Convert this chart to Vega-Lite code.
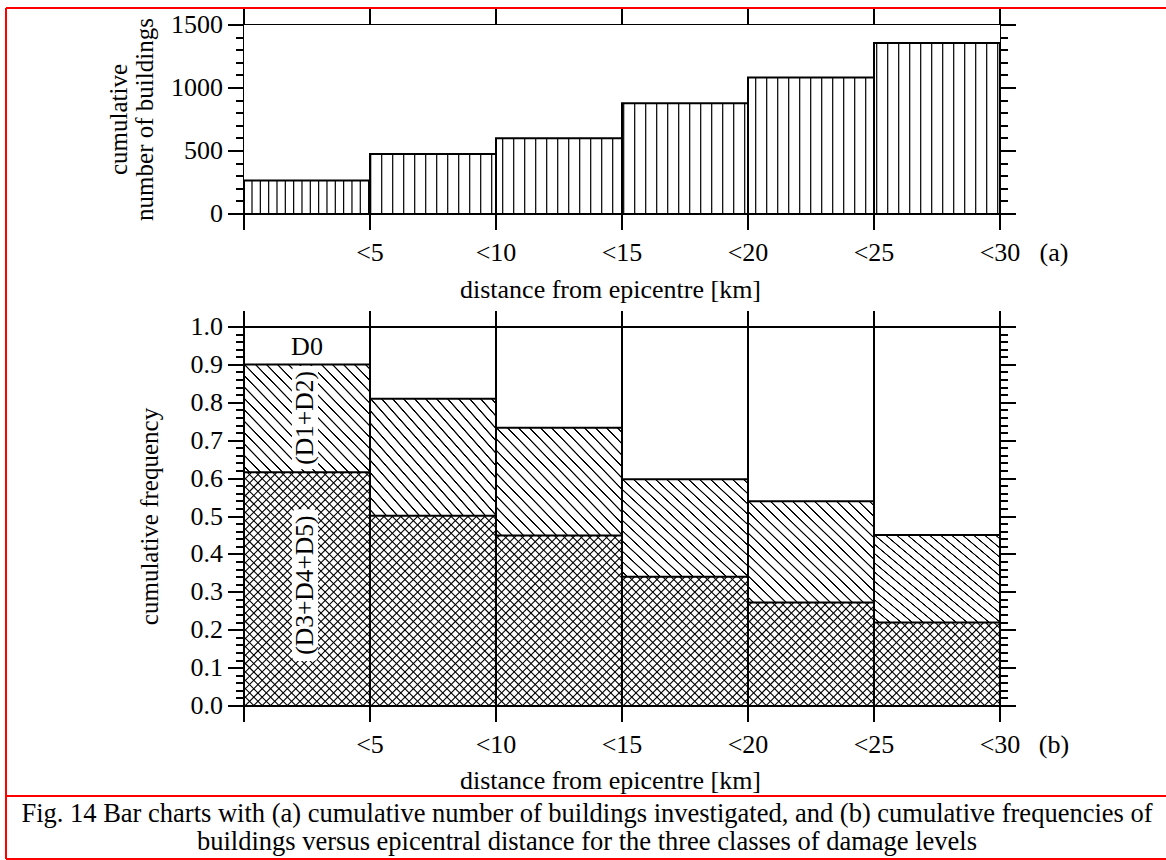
{
"$schema": "https://vega.github.io/schema/vega-lite/v6.json",
"width": 756,
"height": 379,
"autosize": {"type": "none"},
"padding": {"left": 244, "top": 327, "right": 166, "bottom": 154},
"background": "white",
"datasets": {
"bins": [
{"bin": "<5", "lo": 0, "hi": 5, "n": 266, "d3": 0.617, "d12": 0.901},
{"bin": "<10", "lo": 5, "hi": 10, "n": 477, "d3": 0.502, "d12": 0.811},
{"bin": "<15", "lo": 10, "hi": 15, "n": 602, "d3": 0.450, "d12": 0.734},
{"bin": "<20", "lo": 15, "hi": 20, "n": 878, "d3": 0.341, "d12": 0.598},
{"bin": "<25", "lo": 20, "hi": 25, "n": 1084, "d3": 0.273, "d12": 0.540},
{"bin": "<30", "lo": 25, "hi": 30, "n": 1358, "d3": 0.220, "d12": 0.451}
]
},
"config": {
"view": {"stroke": null},
"font": "Liberation Serif",
"axis": {
"domainColor": "#000", "domainWidth": 2, "tickColor": "#000", "tickWidth": 2,
"labelColor": "#000", "labelFont": "Liberation Serif", "labelFontSize": 26,
"titleColor": "#000", "titleFont": "Liberation Serif", "titleFontSize": 26, "titleFontWeight": "normal",
"grid": false, "translate": 0, "labelFlush": false, "labelOverlap": false,
"titleLimit": 3000, "labelLimit": 500, "zindex": 1
}
},
"resolve": {"scale": {"x": "independent", "y": "independent"}, "axis": {"x": "independent", "y": "independent"}},
"layer": [
{
"data": {"values": [{"k": 1}]},
"mark": {"type": "rule", "color": "#000", "strokeWidth": 189, "strokeDash": [1.2, 9.8], "strokeDashOffset": 10.9},
"encoding": {
"x": {"datum": 5, "type": "quantitative", "scale": {"domain": [0, 30], "nice": false, "zero": false},
"axis": {"orient": "bottom", "offset": -492, "values": [0, 5, 10, 15, 20, 25, 30], "labelExpr": "datum.value == 0 ? '' : '<' + datum.value", "tickSize": 16, "labelPadding": 31, "labelBaseline": "alphabetic", "title": "distance from epicentre [km]", "titleX": 366.5, "titleY": 84, "titleBaseline": "alphabetic", "titleAlign": "center"}},
"x2": {"datum": 30},
"y": {"datum": 750, "type": "quantitative", "scale": {"domain": [0, 1500], "range": [-113, -302], "nice": false, "zero": false},
"axis": {"orient": "left", "values": [0, 500, 1000, 1500], "format": "d", "tickSize": 16, "labelPadding": 5, "title": ["cumulative", "number of buildings"], "titleX": -112, "titleY": -207.5, "titleAngle": 270, "titleBaseline": "bottom", "titleAlign": "center", "titleLineHeight": 26, "titleFontSize": 25}}
}
},
{
"data": {"values": [{"k": 1}]},
"mark": {"type": "rule", "color": "#000", "strokeWidth": 189, "strokeDash": [1.2, 7.13], "strokeDashOffset": 0.93},
"encoding": {
"x": {"datum": 0, "type": "quantitative", "scale": {"domain": [0, 30], "nice": false, "zero": false},
"axis": {"orient": "top", "offset": 302, "values": [0, 5, 10, 15, 20, 25, 30], "tickSize": 16, "labels": false, "title": "(a)", "titleX": 810, "titleY": 236, "titleBaseline": "alphabetic", "titleAlign": "center"}},
"x2": {"datum": 5},
"y": {"datum": 750, "type": "quantitative", "scale": {"domain": [0, 1500], "range": [-113, -302], "nice": false, "zero": false},
"axis": {"orient": "left", "values": [100, 200, 300, 400, 600, 700, 800, 900, 1100, 1200, 1300, 1400], "tickSize": 8, "labels": false, "domain": false, "title": null}}
}
},
{
"data": {"name": "bins"},
"mark": {"type": "bar", "fill": "#fff"},
"encoding": {
"x": {"field": "lo", "type": "quantitative", "scale": {"domain": [0, 30], "nice": false, "zero": false}, "axis": null},
"x2": {"field": "hi"},
"y": {"field": "n", "type": "quantitative", "stack": null, "scale": {"domain": [0, 1500], "range": [-113, -302], "nice": false, "zero": false},
"axis": {"orient": "right", "values": [0, 500, 1000, 1500], "tickSize": 16, "labels": false, "title": null}},
"y2": {"datum": 1500}
}
},
{
"data": {"name": "bins"},
"mark": {"type": "bar", "fill": "transparent", "stroke": "#000", "strokeWidth": 2},
"encoding": {
"x": {"field": "lo", "type": "quantitative", "scale": {"domain": [0, 30], "nice": false, "zero": false}, "axis": null},
"x2": {"field": "hi"},
"y": {"field": "n", "type": "quantitative", "stack": null, "scale": {"domain": [0, 1500], "range": [-113, -302], "nice": false, "zero": false},
"axis": {"orient": "right", "values": [100, 200, 300, 400, 600, 700, 800, 900, 1100, 1200, 1300, 1400], "tickSize": 8, "labels": false, "domain": false, "title": null}},
"y2": {"datum": 0}
}
},
{
"data": {"values": [{"k": 1}]},
"mark": {"type": "rule", "color": "#000", "strokeWidth": 810, "strokeDash": [1.1, 4.84], "clip": true},
"encoding": {
"x": {"datum": 3.095, "type": "quantitative", "scale": {"domain": [0, 30], "nice": false, "zero": false},
"axis": {"orient": "bottom", "values": [0, 5, 10, 15, 20, 25, 30], "labelExpr": "datum.value == 0 ? '' : '<' + datum.value", "tickSize": 16, "labelPadding": 31, "labelBaseline": "alphabetic", "title": "distance from epicentre [km]", "titleX": 366.5, "titleY": 82.5, "titleBaseline": "alphabetic", "titleAlign": "center"}},
"x2": {"datum": 26.905},
"y": {"datum": 1.2916, "type": "quantitative", "scale": {"domain": [0, 1], "nice": false, "zero": false},
"axis": {"orient": "left", "values": [0, 0.1, 0.2, 0.3, 0.4, 0.5, 0.6, 0.7, 0.8, 0.9, 1], "format": ".1f", "tickSize": 16, "labelPadding": 5, "title": "cumulative frequency", "titleX": -81, "titleY": 189.5, "titleAngle": 270, "titleBaseline": "bottom", "titleAlign": "center", "titleFontSize": 25}},
"y2": {"datum": -0.2916}
}
},
{
"data": {"values": [{"k": 1}]},
"mark": {"type": "rule", "color": "#000", "strokeWidth": 810, "strokeDash": [1.1, 4.84], "clip": true},
"encoding": {
"x": {"datum": 3.095, "type": "quantitative", "scale": {"domain": [0, 30], "nice": false, "zero": false},
"axis": {"orient": "top", "values": [0, 5, 10, 15, 20, 25, 30], "tickSize": 16, "labels": false, "title": "(b)", "titleX": 810, "titleY": 426, "titleBaseline": "alphabetic", "titleAlign": "center"}},
"x2": {"datum": 26.905},
"y": {"datum": -0.2916, "type": "quantitative", "scale": {"domain": [0, 1], "nice": false, "zero": false},
"axis": {"orient": "left", "values": [0.02, 0.04, 0.06, 0.08, 0.12, 0.14, 0.16, 0.18, 0.22, 0.24, 0.26, 0.28, 0.32, 0.34, 0.36, 0.38, 0.42, 0.44, 0.46, 0.48, 0.52, 0.54, 0.56, 0.58, 0.62, 0.64, 0.66, 0.68, 0.72, 0.74, 0.76, 0.78, 0.82, 0.84, 0.86, 0.88, 0.92, 0.94, 0.96, 0.98], "tickSize": 8, "labels": false, "domain": false, "title": null}},
"y2": {"datum": 1.2916}
}
},
{
"data": {"name": "bins"},
"mark": {"type": "bar", "fill": "#fff"},
"encoding": {
"x": {"field": "lo", "type": "quantitative", "scale": {"domain": [0, 30], "nice": false, "zero": false}, "axis": null},
"x2": {"field": "hi"},
"y": {"field": "d3", "type": "quantitative", "stack": null, "scale": {"domain": [0, 1], "nice": false, "zero": false},
"axis": {"orient": "right", "values": [0, 0.1, 0.2, 0.3, 0.4, 0.5, 0.6, 0.7, 0.8, 0.9, 1], "tickSize": 16, "labels": false, "title": null}},
"y2": {"datum": 1}
}
},
{
"data": {"name": "bins"},
"mark": {"type": "bar", "fill": {"gradient": "linear", "x1": 0, "y1": 1, "x2": 1.0857, "y2": 0.1038, "stops": [
{"offset": 0, "color": "#fff"},
{"offset": 0.0184, "color": "#fff"}, {"offset": 0.0217, "color": "#000"}, {"offset": 0.0261, "color": "#000"}, {"offset": 0.0294, "color": "#fff"},
{"offset": 0.0662, "color": "#fff"}, {"offset": 0.0695, "color": "#000"}, {"offset": 0.0739, "color": "#000"}, {"offset": 0.0772, "color": "#fff"},
{"offset": 0.1141, "color": "#fff"}, {"offset": 0.1174, "color": "#000"}, {"offset": 0.1218, "color": "#000"}, {"offset": 0.1251, "color": "#fff"},
{"offset": 0.1619, "color": "#fff"}, {"offset": 0.1652, "color": "#000"}, {"offset": 0.1696, "color": "#000"}, {"offset": 0.1729, "color": "#fff"},
{"offset": 0.2097, "color": "#fff"}, {"offset": 0.2130, "color": "#000"}, {"offset": 0.2174, "color": "#000"}, {"offset": 0.2207, "color": "#fff"},
{"offset": 0.2575, "color": "#fff"}, {"offset": 0.2608, "color": "#000"}, {"offset": 0.2652, "color": "#000"}, {"offset": 0.2685, "color": "#fff"},
{"offset": 0.3054, "color": "#fff"}, {"offset": 0.3087, "color": "#000"}, {"offset": 0.3131, "color": "#000"}, {"offset": 0.3164, "color": "#fff"},
{"offset": 0.3532, "color": "#fff"}, {"offset": 0.3565, "color": "#000"}, {"offset": 0.3609, "color": "#000"}, {"offset": 0.3642, "color": "#fff"},
{"offset": 0.4010, "color": "#fff"}, {"offset": 0.4043, "color": "#000"}, {"offset": 0.4087, "color": "#000"}, {"offset": 0.4120, "color": "#fff"},
{"offset": 0.4489, "color": "#fff"}, {"offset": 0.4522, "color": "#000"}, {"offset": 0.4566, "color": "#000"}, {"offset": 0.4599, "color": "#fff"},
{"offset": 0.4967, "color": "#fff"}, {"offset": 0.5000, "color": "#000"}, {"offset": 0.5044, "color": "#000"}, {"offset": 0.5077, "color": "#fff"},
{"offset": 0.5445, "color": "#fff"}, {"offset": 0.5478, "color": "#000"}, {"offset": 0.5522, "color": "#000"}, {"offset": 0.5555, "color": "#fff"},
{"offset": 0.5923, "color": "#fff"}, {"offset": 0.5956, "color": "#000"}, {"offset": 0.6000, "color": "#000"}, {"offset": 0.6033, "color": "#fff"},
{"offset": 0.6402, "color": "#fff"}, {"offset": 0.6435, "color": "#000"}, {"offset": 0.6479, "color": "#000"}, {"offset": 0.6512, "color": "#fff"},
{"offset": 0.6880, "color": "#fff"}, {"offset": 0.6913, "color": "#000"}, {"offset": 0.6957, "color": "#000"}, {"offset": 0.6990, "color": "#fff"},
{"offset": 0.7358, "color": "#fff"}, {"offset": 0.7391, "color": "#000"}, {"offset": 0.7435, "color": "#000"}, {"offset": 0.7468, "color": "#fff"},
{"offset": 0.7836, "color": "#fff"}, {"offset": 0.7869, "color": "#000"}, {"offset": 0.7913, "color": "#000"}, {"offset": 0.7946, "color": "#fff"},
{"offset": 0.8315, "color": "#fff"}, {"offset": 0.8348, "color": "#000"}, {"offset": 0.8392, "color": "#000"}, {"offset": 0.8425, "color": "#fff"},
{"offset": 0.8793, "color": "#fff"}, {"offset": 0.8826, "color": "#000"}, {"offset": 0.8870, "color": "#000"}, {"offset": 0.8903, "color": "#fff"},
{"offset": 0.9271, "color": "#fff"}, {"offset": 0.9304, "color": "#000"}, {"offset": 0.9348, "color": "#000"}, {"offset": 0.9381, "color": "#fff"},
{"offset": 0.9749, "color": "#fff"}, {"offset": 0.9782, "color": "#000"}, {"offset": 0.9826, "color": "#000"}, {"offset": 0.9859, "color": "#fff"},
{"offset": 1, "color": "#fff"}
]}},
"encoding": {
"x": {"field": "lo", "type": "quantitative", "scale": {"domain": [0, 30], "nice": false, "zero": false}, "axis": null},
"x2": {"field": "hi"},
"y": {"field": "d3", "type": "quantitative", "stack": null, "scale": {"domain": [0, 1], "nice": false, "zero": false},
"axis": {"orient": "right", "values": [0.02, 0.04, 0.06, 0.08, 0.12, 0.14, 0.16, 0.18, 0.22, 0.24, 0.26, 0.28, 0.32, 0.34, 0.36, 0.38, 0.42, 0.44, 0.46, 0.48, 0.52, 0.54, 0.56, 0.58, 0.62, 0.64, 0.66, 0.68, 0.72, 0.74, 0.76, 0.78, 0.82, 0.84, 0.86, 0.88, 0.92, 0.94, 0.96, 0.98], "tickSize": 8, "labels": false, "domain": false, "title": null}},
"y2": {"field": "d12"}
}
},
{
"data": {"name": "bins"},
"mark": {"type": "bar", "fill": "transparent", "stroke": "#000", "strokeWidth": 2},
"encoding": {
"x": {"field": "lo", "type": "quantitative", "scale": {"domain": [0, 30], "nice": false, "zero": false}, "axis": null},
"x2": {"field": "hi"},
"y": {"datum": 0, "type": "quantitative", "scale": {"domain": [0, 1], "nice": false, "zero": false}, "axis": null},
"y2": {"datum": 1}
}
},
{
"data": {"name": "bins"},
"mark": {"type": "bar", "fill": "transparent", "stroke": "#000", "strokeWidth": 2},
"encoding": {
"x": {"field": "lo", "type": "quantitative", "scale": {"domain": [0, 30], "nice": false, "zero": false}, "axis": null},
"x2": {"field": "hi"},
"y": {"field": "d12", "type": "quantitative", "stack": null, "scale": {"domain": [0, 1], "nice": false, "zero": false}, "axis": null},
"y2": {"datum": 0}
}
},
{
"data": {"name": "bins"},
"mark": {"type": "bar", "fill": "transparent", "stroke": "#000", "strokeWidth": 2},
"encoding": {
"x": {"field": "lo", "type": "quantitative", "scale": {"domain": [0, 30], "nice": false, "zero": false}, "axis": null},
"x2": {"field": "hi"},
"y": {"field": "d3", "type": "quantitative", "stack": null, "scale": {"domain": [0, 1], "nice": false, "zero": false}, "axis": null},
"y2": {"datum": 0}
}
},
{
"data": {"values": [{"k": 1}]},
"mark": {"type": "rect", "fill": "#fff", "cornerRadius": 5},
"encoding": {
"x": {"datum": 1.9, "type": "quantitative", "scale": {"domain": [0, 30], "nice": false, "zero": false}, "axis": null},
"x2": {"datum": 2.94},
"y": {"datum": 0.625, "type": "quantitative", "scale": {"domain": [0, 1], "nice": false, "zero": false}, "axis": null},
"y2": {"datum": 0.897}
}
},
{
"data": {"values": [{"k": 1}]},
"mark": {"type": "rect", "fill": "#fff", "cornerRadius": 5},
"encoding": {
"x": {"datum": 1.9, "type": "quantitative", "scale": {"domain": [0, 30], "nice": false, "zero": false}, "axis": null},
"x2": {"datum": 2.94},
"y": {"datum": 0.119, "type": "quantitative", "scale": {"domain": [0, 1], "nice": false, "zero": false}, "axis": null},
"y2": {"datum": 0.519}
}
},
{
"data": {"values": [{"label": "D0"}]},
"mark": {"type": "text", "font": "Liberation Serif", "fontSize": 26, "color": "#000", "align": "center", "baseline": "middle"},
"encoding": {
"x": {"datum": 2.5, "type": "quantitative", "scale": {"domain": [0, 30], "nice": false, "zero": false}, "axis": null},
"y": {"datum": 0.948, "type": "quantitative", "scale": {"domain": [0, 1], "nice": false, "zero": false}, "axis": null},
"text": {"field": "label"}
}
},
{
"data": {"values": [{"label": "(D1+D2)"}]},
"mark": {"type": "text", "font": "Liberation Serif", "fontSize": 25.5, "color": "#000", "align": "center", "baseline": "middle", "angle": 270},
"encoding": {
"x": {"datum": 2.42, "type": "quantitative", "scale": {"domain": [0, 30], "nice": false, "zero": false}, "axis": null},
"y": {"datum": 0.760, "type": "quantitative", "scale": {"domain": [0, 1], "nice": false, "zero": false}, "axis": null},
"text": {"field": "label"}
}
},
{
"data": {"values": [{"label": "(D3+D4+D5)"}]},
"mark": {"type": "text", "font": "Liberation Serif", "fontSize": 25.5, "color": "#000", "align": "center", "baseline": "middle", "angle": 270},
"encoding": {
"x": {"datum": 2.42, "type": "quantitative", "scale": {"domain": [0, 30], "nice": false, "zero": false}, "axis": null},
"y": {"datum": 0.319, "type": "quantitative", "scale": {"domain": [0, 1], "nice": false, "zero": false}, "axis": null},
"text": {"field": "label"}
}
},
{
"data": {"values": [{"k": 1}]},
"mark": {"type": "point", "opacity": 0},
"encoding": {
"x": {"datum": 0, "type": "quantitative", "scale": {"domain": [0, 1], "range": [-238, 922], "nice": false, "zero": false},
"axis": {"orient": "top", "offset": 319, "domainColor": "#ff0000", "domainWidth": 2, "ticks": false, "labels": false, "title": null}},
"y": {"datum": 0, "type": "quantitative", "scale": {"domain": [0, 1], "range": [532, -319], "nice": false, "zero": false},
"axis": {"orient": "left", "offset": 238, "domainColor": "#ff0000", "domainWidth": 2, "ticks": false, "labels": false, "title": null}}
}
},
{
"data": {"values": [{"k": 1}]},
"mark": {"type": "point", "opacity": 0},
"encoding": {
"x": {"datum": 0, "type": "quantitative", "scale": {"domain": [0, 1], "range": [-238, 922], "nice": false, "zero": false},
"axis": {"orient": "bottom", "offset": 90, "domainColor": "#ff0000", "domainWidth": 2, "ticks": false, "labels": false,
"title": ["Fig. 14 Bar charts with (a) cumulative number of buildings investigated, and (b) cumulative frequencies of", "buildings versus epicentral distance for the three classes of damage levels"],
"titleX": 343, "titleY": 26, "titleBaseline": "alphabetic", "titleAlign": "center", "titleFontSize": 26.5, "titleLineHeight": 28}},
"y": {"datum": 0, "type": "quantitative", "scale": {"domain": [0, 1], "range": [532, -319], "nice": false, "zero": false}, "axis": null}
}
},
{
"data": {"values": [{"k": 1}]},
"mark": {"type": "point", "opacity": 0},
"encoding": {
"x": {"datum": 0, "type": "quantitative", "scale": {"domain": [0, 1], "range": [-238, 922], "nice": false, "zero": false},
"axis": {"orient": "bottom", "offset": 153, "domainColor": "#ff0000", "domainWidth": 2, "ticks": false, "labels": false, "title": null}},
"y": {"datum": 0, "type": "quantitative", "scale": {"domain": [0, 1], "range": [532, -319], "nice": false, "zero": false}, "axis": null}
}
}
]
}
